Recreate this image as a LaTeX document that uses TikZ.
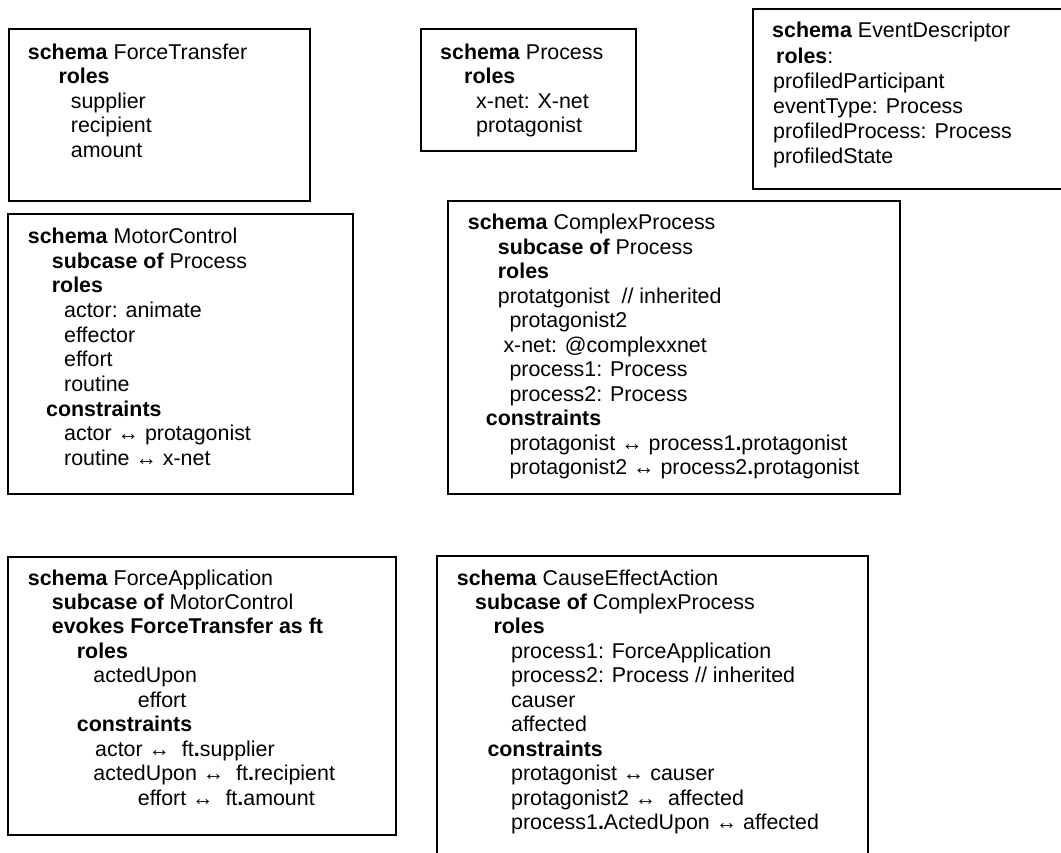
\documentclass[tikz,border=0pt]{standalone}
\usepackage{fontspec}
\setmainfont{Liberation Sans}
\tikzset{
  x=1pt, y=-1pt,
  boxline/.style={draw=black, line width=1.3pt},
  schematext/.style={anchor=base west, inner sep=0pt, text=black,
    font=\fontsize{21.4}{24.45}\selectfont},
}
\newcommand{\ind}[1]{\hspace*{#1pt}}
\newcommand{\bp}{\textbf{.}}
\begin{document}
\begin{tikzpicture}
\useasboundingbox (0,0) rectangle (1061,853);
\fill[white] (0,0) rectangle (1061,853);

% ForceTransfer
\draw[boxline] (9,29) rectangle (310,201);
\node[schematext] (forcetransfer) at (27.7,59.5) {\begin{tabular}[t]{@{}l@{}}
\textbf{schema} ForceTransfer\\
\ind{30.6}\textbf{roles}\\
\ind{43}supplier\\
\ind{43}recipient\\
\ind{43}amount
\end{tabular}};

% Process
\draw[boxline] (421,29) rectangle (636,151);
\node[schematext] (process) at (440,59.5) {\begin{tabular}[t]{@{}l@{}}
\textbf{schema} Process\\
\ind{24}\textbf{roles}\\
\ind{36}x-net: X-net\\
\ind{36}protagonist
\end{tabular}};

% EventDescriptor (open on the right)
\draw[boxline] (1061,9) -- (753,9) -- (753,189) -- (1061,189);
\node[schematext, font=\fontsize{21.4}{25.1}\selectfont] (eventdescriptor) at (772,38) {\begin{tabular}[t]{@{}l@{}}
\textbf{schema} EventDescriptor\\
\ind{4}\textbf{roles}:\\
\ind{1}profiledParticipant\\
\ind{1}eventType: Process\\
\ind{1}profiledProcess: Process\\
\ind{1}profiledState
\end{tabular}};

% MotorControl
\draw[boxline] (8,214) rectangle (353,494);
\node[schematext, font=\fontsize{21.4}{24.65}\selectfont] (motorcontrol) at (27.7,243.5) {\begin{tabular}[t]{@{}l@{}}
\textbf{schema} MotorControl\\
\ind{24}\textbf{subcase of} Process\\
\ind{24}\textbf{roles}\\
\ind{36.3}actor: animate\\
\ind{36.3}effector\\
\ind{36.3}effort\\
\ind{36.3}routine\\
\ind{18.3}\textbf{constraints}\\
\ind{36.3}actor ↔ protagonist\\
\ind{36.3}routine ↔ x-net
\end{tabular}};

% ComplexProcess
\draw[boxline] (448,201) rectangle (900,494);
\node[schematext] (complexprocess) at (467.7,230) {\begin{tabular}[t]{@{}l@{}}
\textbf{schema} ComplexProcess\\
\ind{30}\textbf{subcase of} Process\\
\ind{30}\textbf{roles}\\
\ind{30}protatgonist\ \ // inherited\\
\ind{41.6}protagonist2\\
\ind{35.6}x-net: @complexxnet\\
\ind{41.6}process1: Process\\
\ind{41.6}process2: Process\\
\ind{18}\textbf{constraints}\\
\ind{41.6}protagonist ↔ process1\bp protagonist\\
\ind{41.6}protagonist2 ↔ process2\bp protagonist
\end{tabular}};

% ForceApplication
\draw[boxline] (8,557) rectangle (396,835);
\node[schematext] (forceapplication) at (27.7,585) {\begin{tabular}[t]{@{}l@{}}
\textbf{schema} ForceApplication\\
\ind{24}\textbf{subcase of} MotorControl\\
\ind{24}\textbf{evokes ForceTransfer as ft}\\
\ind{49}\textbf{roles}\\
\ind{65.6}actedUpon\\
\ind{110}effort\\
\ind{49}\textbf{constraints}\\
\ind{67.3}actor ↔\ \ ft\bp supplier\\
\ind{65.6}actedUpon ↔\ \ ft\bp recipient\\
\ind{110}effort ↔\ \ ft\bp amount
\end{tabular}};

% CauseEffectAction (open at the bottom)
\draw[boxline] (437,853) -- (437,556) -- (868,556) -- (868,853);
\node[schematext] (causeeffectaction) at (456.7,585) {\begin{tabular}[t]{@{}l@{}}
\textbf{schema} CauseEffectAction\\
\ind{18.3}\textbf{subcase of} ComplexProcess\\
\ind{36.6}\textbf{roles}\\
\ind{54.3}process1: ForceApplication\\
\ind{54.3}process2: Process // inherited\\
\ind{54.3}causer\\
\ind{54.3}affected\\
\ind{30.6}\textbf{constraints}\\
\ind{54.3}protagonist ↔ causer\\
\ind{54.3}protagonist2 ↔\ \ affected\\
\ind{54.3}process1\bp ActedUpon ↔ affected
\end{tabular}};
\end{tikzpicture}
\end{document}
